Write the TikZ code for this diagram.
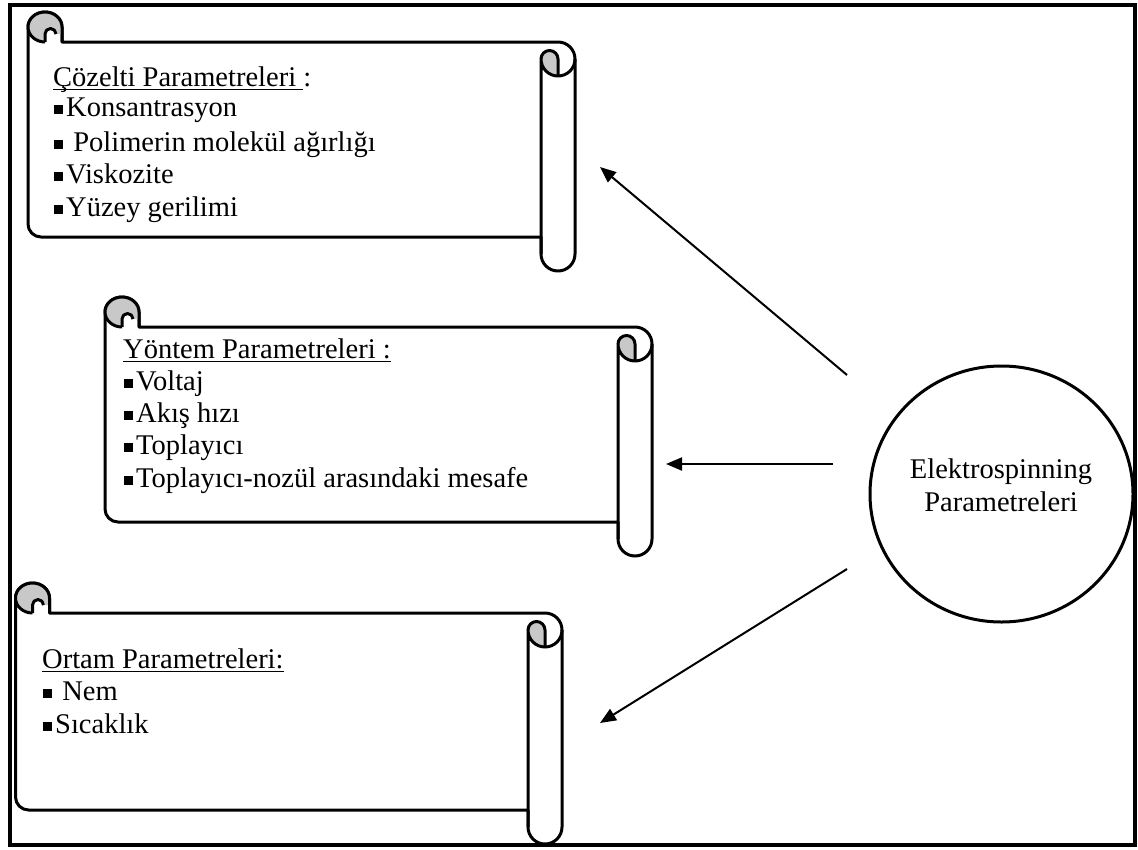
\documentclass[tikz,border=0pt]{standalone}
\usepackage{fontspec}
\setmainfont{Liberation Serif}
\usetikzlibrary{arrows.meta,shapes.geometric}
\newcommand\ulin[1]{\setbox0=\hbox{#1}\rlap{\rule[-3.8pt]{\wd0}{1.3pt}}\box0}
\newcommand\bul{\kern1pt\rule[2.5pt]{9pt}{9pt}\kern3pt}
% #1 = left x, #2 = top edge y, #3 = right x, #4 = body bottom y (pixel units, y down)
\newcommand\drawscroll[4]{%
  % outer body
  \draw[scrollline, fill=white]
    (#1,{-(#2-15)}) arc[start angle=180, end angle=0, x radius=17, y radius=15]
    -- ({#1+34},{-#2}) -- ({#3-17},{-#2})
    arc[start angle=90, end angle=0, radius=17]
    -- (#3,{-(#4+17)}) arc[start angle=0, end angle=-180, radius=17]
    -- ({#3-34},{-#4}) -- ({#1+13},{-#4})
    arc[start angle=270, end angle=180, radius=13] -- cycle;
  % top-left curl
  \fill[curlgray]
    ({#1+17},{-#2}) arc[start angle=270, end angle=180, x radius=17, y radius=15]
    arc[start angle=180, end angle=0, x radius=17, y radius=15]
    -- ({#1+34},{-(#2-8)}) -- ({#1+28},{-(#2-8)})
    arc[start angle=0, end angle=180, radius=5.5]
    -- cycle;
  \draw[scrollline]
    (#1,{-(#2-15)}) arc[start angle=180, end angle=0, x radius=17, y radius=15]
    -- ({#1+34},{-#2});
  \draw[scrollline]
    (#1,{-(#2-15)}) arc[start angle=180, end angle=270, x radius=17, y radius=15];
  \draw[scrollline]
    ({#1+17},{-#2}) -- ({#1+17},{-(#2-8)}) arc[start angle=180, end angle=0, radius=5.5];
  % right roll
  \fill[curlgray]
    ({#3-34},{-(#2+17)}) arc[start angle=180, end angle=0, radius=8.5]
    -- ({#3-17},{-(#2+34)}) arc[start angle=270, end angle=180, radius=17] -- cycle;
  \draw[scrollline]
    ({#3-34},{-(#4+17)}) -- ({#3-34},{-(#2+17)})
    arc[start angle=180, end angle=360, radius=17];
  \draw[scrollline]
    ({#3-34},{-(#2+17)}) arc[start angle=180, end angle=0, radius=8.5]
    -- ({#3-17},{-(#2+34)});
}
\begin{document}
\begin{tikzpicture}[x=1pt,y=1pt,
  scrollline/.style={line width=3pt, line join=round, black},
  txt/.style={font=\fontsize{28.5}{33}\selectfont, inner sep=0pt, anchor=base west},
  arr/.style={line width=2pt, -{Triangle[length=16pt,width=13pt]}},
  frame/.style={line width=3.5pt, black}]
\definecolor{curlgray}{RGB}{200,200,200}
\useasboundingbox[fill=white] (0,0) rectangle (1138,-849);
\draw[frame] (10,-5) rectangle (1135,-845);

% scrolls
\drawscroll{28}{42}{575}{237}
\drawscroll{105}{327}{652}{522}
\drawscroll{15.5}{613}{562}{810}

% scroll 1 text
\node[txt] (t1) at (53,-86) {\ulin{Çözelti Parametreleri }:};
\node[txt] (t1a) at (53,-116) {\bul Konsantrasyon};
\node[txt] (t1b) at (53,-151) {\bul\ Polimerin molekül ağırlığı};
\node[txt] (t1c) at (53,-183) {\bul Viskozite};
\node[txt] (t1d) at (53,-216) {\bul Yüzey gerilimi};

% scroll 2 text
\node[txt] (t2) at (123,-358) {\ulin{Yöntem Parametreleri :}};
\node[txt] (t2a) at (123,-390) {\bul Voltaj};
\node[txt] (t2b) at (123,-422) {\bul Akış hızı};
\node[txt] (t2c) at (123,-454) {\bul Toplayıcı};
\node[txt] (t2d) at (123,-487) {\bul Toplayıcı-nozül arasındaki mesafe};

% scroll 3 text
\node[txt] (t3) at (42,-668) {\ulin{Ortam Parametreleri:}};
\node[txt] (t3a) at (42,-700) {\bul\ Nem};
\node[txt] (t3b) at (42,-733) {\bul Sıcaklık};

% circle
\node[ellipse, draw, line width=3pt, minimum width=263pt, minimum height=256pt,
      inner sep=0pt] (circ) at (1001.5,-494) {};
\node[align=center, inner sep=0pt, font=\fontsize{28.5}{33}\selectfont]
      (circtext) at (1001,-485) {Elektrospinning\\Parametreleri};

% arrows
\coordinate (a1s) at (847,-375);
\coordinate (a1e) at (600,-167);
\coordinate (a2s) at (833,-464);
\coordinate (a2e) at (666,-464);
\coordinate (a3s) at (847,-569);
\coordinate (a3e) at (600,-723);
\draw[arr] (a1s) -- (a1e);
\draw[arr] (a2s) -- (a2e);
\draw[arr] (a3s) -- (a3e);
\end{tikzpicture}
\end{document}
